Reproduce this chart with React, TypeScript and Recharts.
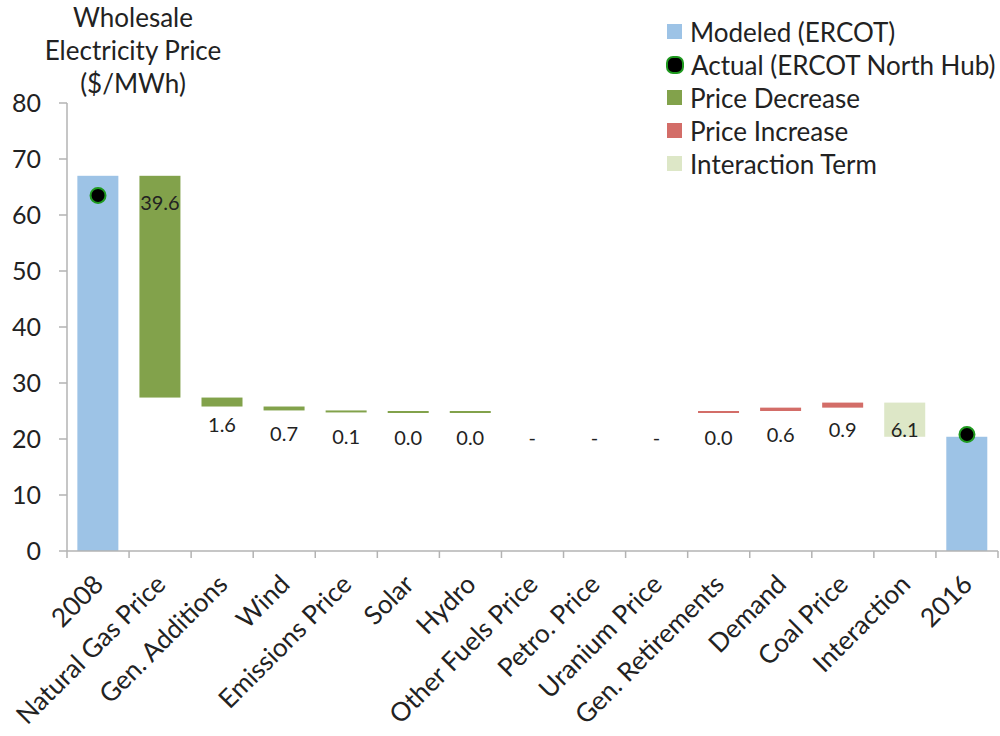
import React from 'react';
import { ComposedChart, Bar, Line, XAxis, YAxis, Cell, LabelList } from 'recharts';

const categories = [
  '2008', 'Natural Gas Price', 'Gen. Additions', 'Wind', 'Emissions Price', 'Solar', 'Hydro',
  'Other Fuels Price', 'Petro. Price', 'Uranium Price', 'Gen. Retirements', 'Demand',
  'Coal Price', 'Interaction', '2016',
];
// modeled totals (first and last columns only)
const modeled = [67.0, null, null, null, null, null, null, null, null, null, null, null, null, null, 20.4];
// actual hub prices
const actual = [63.5, null, null, null, null, null, null, null, null, null, null, null, null, null, 20.8];
// size of each step; null = no effect ("-")
const steps = [null, 39.6, 1.6, 0.7, 0.1, 0.0, 0.0, null, null, null, 0.0, 0.6, 0.9, 6.1, null];
const kinds = [
  'total', 'decrease', 'decrease', 'decrease', 'decrease', 'decrease', 'decrease',
  'none', 'none', 'none', 'increase', 'increase', 'increase', 'interaction', 'total',
];

const COLORS: Record<string, string> = {
  total: '#9dc3e6',
  decrease: '#82a24b',
  increase: '#d36d68',
  interaction: '#dde7c7',
  none: 'transparent',
};

const FONT = 'Lato, "Open Sans", sans-serif';

// running total -> [low, high] span for each column
let level = 0;
const data = categories.map((name, i) => {
  const kind = kinds[i];
  let span: [number, number];
  if (kind === 'total') {
    level = modeled[i] as number;
    span = [0, level];
  } else {
    const s = steps[i] ?? 0;
    const next = kind === 'increase' ? level + s : level - s;
    span = [Math.min(level, next), Math.max(level, next)];
    level = next;
  }
  return {
    name,
    span,
    actual: actual[i],
    kind,
    label: kind === 'total' ? '' : steps[i] === null ? '-' : (steps[i] as number).toFixed(1),
  };
});

const StepShape = (props: any) => {
  const { x, y, width, height, fill, index } = props;
  if (data[index].kind === 'none') return null;
  const top = Math.min(y, y + height);
  const h = Math.max(Math.abs(height), 2);
  return <rect x={x} y={top} width={width} height={h} fill={fill} />;
};

const StepLabel = (props: any) => {
  const { x, y, width, height, index } = props;
  const text = data[index].label;
  if (!text) return null;
  const top = Math.min(y, y + (height || 0));
  return (
    <text x={x + width / 2} y={top + 26} textAnchor="middle" dominantBaseline="central"
      fontSize={20} fill="#222" fontFamily={FONT}>
      {text}
    </text>
  );
};

const XTick = (props: any) => {
  const { x, y, payload, index } = props;
  const half = payload.offset ?? 31;
  const tx = x + 7;
  const ty = y + 35;
  return (
    <g>
      <line x1={x - half} x2={x - half} y1={y} y2={y + 7} stroke="#b3b3b3" strokeWidth={1.5} />
      {index === categories.length - 1 && (
        <line x1={x + half} x2={x + half} y1={y} y2={y + 7} stroke="#b3b3b3" strokeWidth={1.5} />
      )}
      <text x={tx} y={ty} textAnchor="end" fontSize={26} fill="#222" fontFamily={FONT}
        transform={`rotate(-45 ${tx} ${ty})`}>
        {payload.value}
      </text>
    </g>
  );
};

const ActualDot = (props: any) => {
  const { cx, cy, value } = props;
  if (value === null || value === undefined) return null;
  return <circle cx={cx} cy={cy} r={7.5} fill="#000" stroke="#1f9a1f" strokeWidth={2} />;
};

const legendItems = [
  { label: 'Modeled (ERCOT)', color: COLORS.total, dot: false },
  { label: 'Actual (ERCOT North Hub)', color: '#000', dot: true },
  { label: 'Price Decrease', color: COLORS.decrease, dot: false },
  { label: 'Price Increase', color: COLORS.increase, dot: false },
  { label: 'Interaction Term', color: COLORS.interaction, dot: false },
];

export default function App() {
  return (
    <div style={{ position: 'absolute', left: 0, top: 0, width: 1000, height: 736, background: '#fff', fontFamily: FONT }}>
      <div style={{ position: 'absolute', left: 33, top: 1, width: 200, textAlign: 'center', fontSize: 26, lineHeight: '33px', color: '#222' }}>
        Wholesale<br />Electricity Price<br />($/MWh)
      </div>
      <div style={{ position: 'absolute', left: 665, top: 15 }}>
        {legendItems.map((it) => (
          <div key={it.label} style={{ display: 'flex', alignItems: 'center', height: 33, fontSize: 26, color: '#222' }}>
            {it.dot ? (
              <span style={{ width: 14, height: 14, borderRadius: 7, background: '#000', border: '2px solid #1f9a1f', marginLeft: 1, marginRight: 7 }} />
            ) : (
              <span style={{ width: 15, height: 15, background: it.color, marginLeft: 2, marginRight: 8 }} />
            )}
            {it.label}
          </div>
        ))}
      </div>
      <ComposedChart width={1000} height={736} data={data} barCategoryGap="16.7%"
        margin={{ top: 103, right: 2, bottom: 5, left: 7 }}>
        <YAxis domain={[0, 80]} ticks={[0, 10, 20, 30, 40, 50, 60, 70, 80]} width={60}
          axisLine={{ stroke: '#b3b3b3', strokeWidth: 1.5 }} tickLine={{ stroke: '#b3b3b3', strokeWidth: 1.5 }}
          tickSize={8} tickMargin={18} tick={{ fontSize: 25, fill: '#222', fontFamily: FONT }} />
        <XAxis dataKey="name" interval={0} height={180} tickLine={false} tickSize={0} tickMargin={0}
          axisLine={{ stroke: '#b3b3b3', strokeWidth: 1.5 }} tick={<XTick />} />
        <Bar dataKey="span" isAnimationActive={false} shape={<StepShape />}>
          {data.map((d) => (
            <Cell key={d.name} fill={COLORS[d.kind]} />
          ))}
          <LabelList dataKey="label" content={<StepLabel />} />
        </Bar>
        <Line dataKey="actual" stroke="none" isAnimationActive={false} dot={<ActualDot />} activeDot={false} />
      </ComposedChart>
    </div>
  );
}
